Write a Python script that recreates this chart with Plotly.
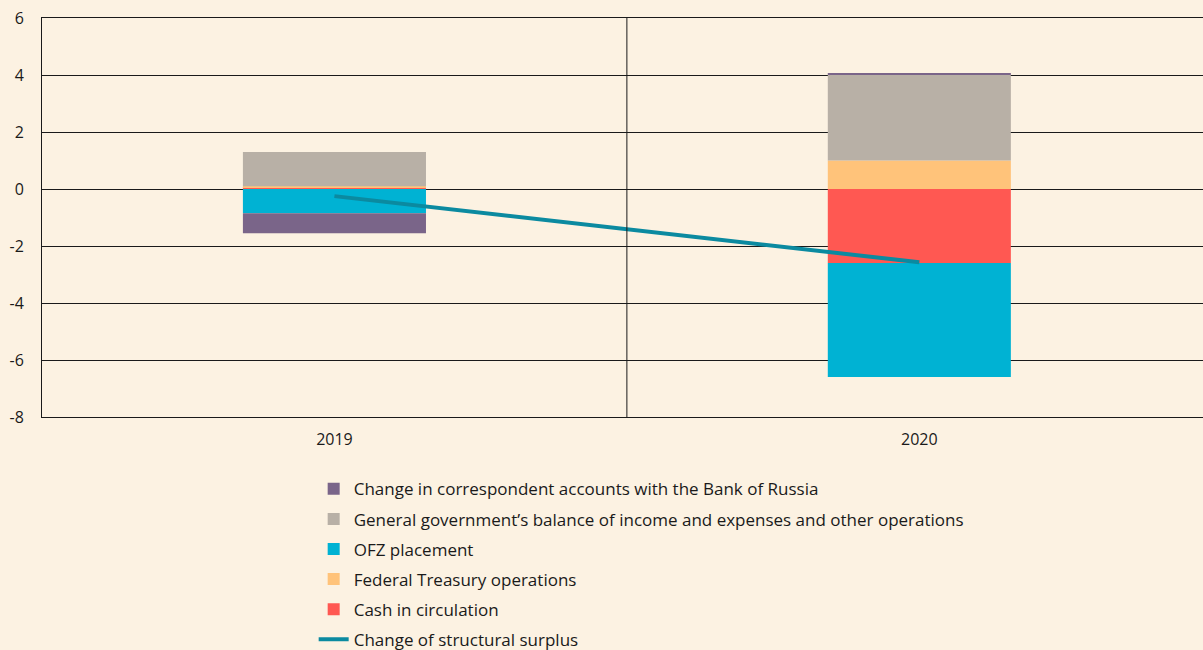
import plotly.graph_objects as go

BG = "#FCF2E2"
FONT = "Open Sans"

years = ["2019", "2020"]

cash = [0.05, -2.6]
treasury = [0.05, 1.0]
ofz = [-0.85, -4.0]
gov_balance = [1.2, 3.0]
corr_accounts = [-0.7, 0.07]
structural_surplus = [-0.25, -2.57]

y_ticks = [-8, -6, -4, -2, 0, 2, 4, 6]
y_labels = ["-8", "-6", "-4", "-2", "0", "2", "4", "6"]

fig = go.Figure()

# bars in stacking order (first trace sits next to zero); legendrank sets legend order
bars = [
    ("Cash in circulation", "#FF5852", cash, 5),
    ("Federal Treasury operations", "#FFC37A", treasury, 4),
    ("OFZ placement", "#00B2D3", ofz, 3),
    ("General government’s balance of income and expenses and other operations", "#B8B0A6", gov_balance, 2),
    ("Change in correspondent accounts with the Bank of Russia", "#7A6589", corr_accounts, 1),
]
for i, (name, color, values, rank) in enumerate(bars):
    fig.add_bar(
        name=name,
        x=years,
        y=values,
        marker={"color": color, "line": {"width": 0}},
        width=0.313,
        legendgroup=f"g{i}",
        legendrank=rank,
    )

fig.add_scatter(
    name="Change of structural surplus",
    x=years,
    y=structural_surplus,
    mode="lines",
    line={"color": "#0B8AA0", "width": 4},
    legendgroup="g6",
    legendrank=6,
)

fig.add_shape(
    type="line", xref="x", yref="y",
    x0=0.5, x1=0.5, y0=-8, y1=6,
    line={"color": "#1a1a1a", "width": 1},
)

fig.update_layout(
    barmode="relative",
    width=1203,
    height=650,
    paper_bgcolor=BG,
    plot_bgcolor=BG,
    font={"family": FONT, "color": "#1a1a1a", "size": 16},
    margin={"l": 42, "r": 0, "t": 18, "b": 233, "autoexpand": False},
    showlegend=True,
    legend={
        "orientation": "v",
        "traceorder": "grouped",
        "tracegroupgap": 5,
        "x": 0.234,
        "xanchor": "left",
        "yref": "container",
        "y": 0.275,
        "yanchor": "top",
        "bgcolor": "rgba(0,0,0,0)",
        "font": {"size": 17},
    },
    xaxis={
        "type": "category",
        "range": [-0.5, 1.485],
        "showgrid": False,
        "showline": True,
        "mirror": True,
        "linecolor": "#1a1a1a",
        "linewidth": 1,
        "zeroline": False,
        "ticks": "outside",
        "ticklen": 8,
        "tickcolor": "rgba(0,0,0,0)",
    },
    yaxis={
        "range": [-8, 6],
        "tickvals": y_ticks,
        "ticktext": y_labels,
        "showgrid": True,
        "gridcolor": "#1a1a1a",
        "gridwidth": 1,
        "zeroline": True,
        "zerolinecolor": "#1a1a1a",
        "zerolinewidth": 1,
        "showline": True,
        "linecolor": "#1a1a1a",
        "linewidth": 1,
        "ticks": "outside",
        "ticklen": 14,
        "tickcolor": "rgba(0,0,0,0)",
    },
)

fig.write_html(
    "out.html",
    config={"displayModeBar": False},
    post_script="document.body.style.margin='0';",
)
